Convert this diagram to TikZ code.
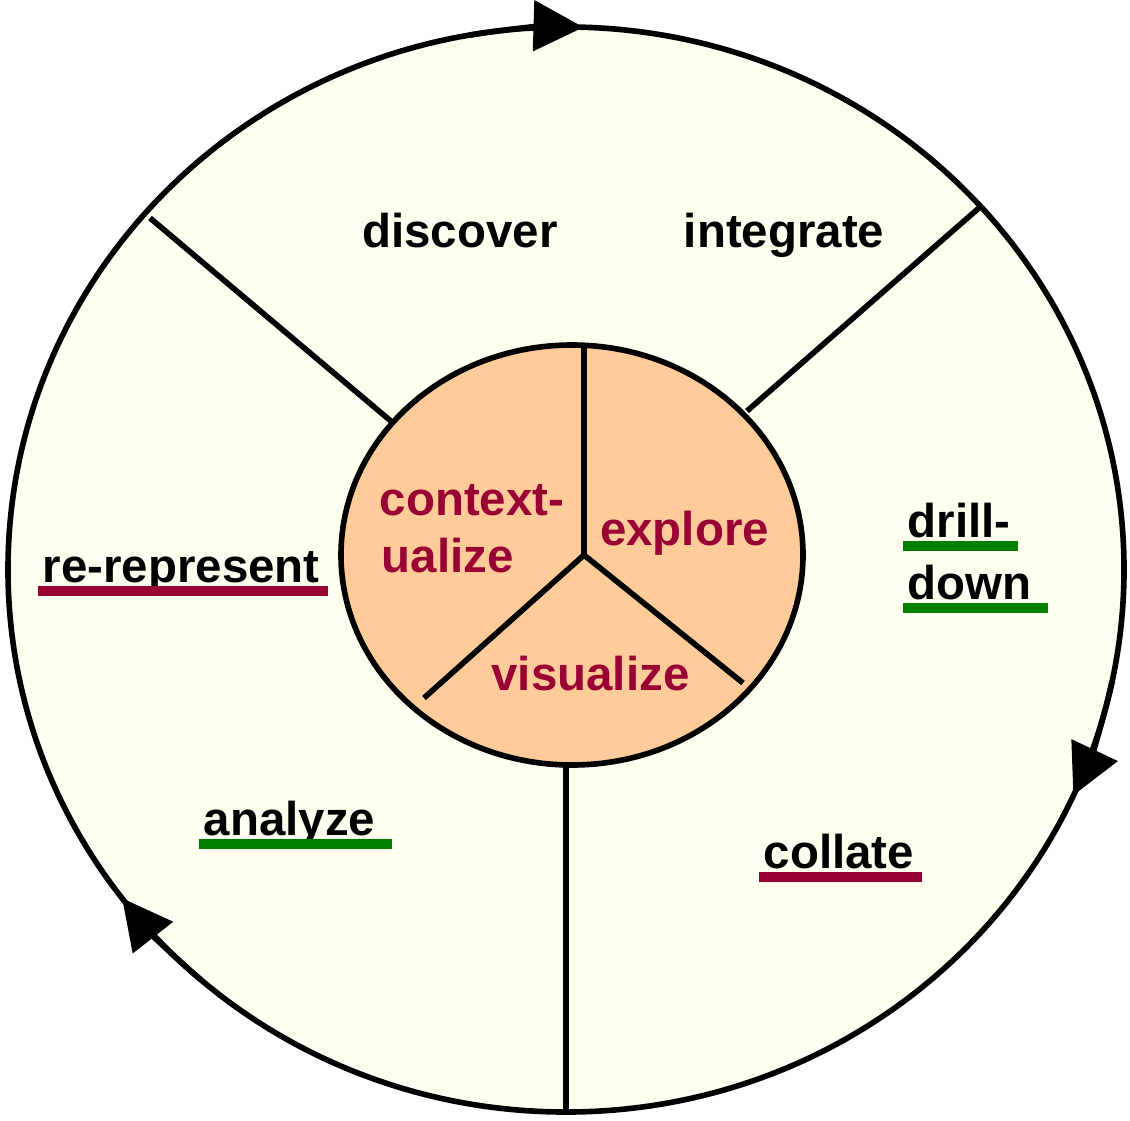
\documentclass[tikz,border=0pt]{standalone}
\usepackage{fontspec}
\setmainfont{Liberation Sans}
\usetikzlibrary{arrows.meta}

\definecolor{cream}{HTML}{FFFFF0}
\definecolor{peach}{HTML}{FFCC99}
\definecolor{wine}{HTML}{990033}
\definecolor{leaf}{HTML}{008000}

\tikzset{
  word/.style={inner sep=0pt, font=\bfseries\fontsize{13.5}{16}\selectfont},
  redword/.style={word, text=wine},
  redline/.style={wine, line width=2.85pt},
  greenline/.style={leaf, line width=2.85pt},
  cycletip/.style={-{Triangle[length=5mm, width=5mm]}}
}

\begin{document}
\begin{tikzpicture}[line width=1.6pt]
            \useasboundingbox (-5.66,-5.505) rectangle (5.64,5.695);

            % Drawing the outer ring
            \fill[cream] (0,0) ellipse [x radius=5.58, y radius=5.425];

            % Drawing the spokes of the ring
            \draw (-4.16,3.515) -- (-1.74,1.475);
            \draw (4.14,3.625) -- (1.81,1.585);
            \draw (0,-1.955) -- (0,-5.425);

            \draw (0,0) ellipse [x radius=5.58, y radius=5.425];

            % Drawing the inner circle
            \draw[fill=peach] (0.06,0.145) ellipse [x radius=2.31, y radius=2.1];
            \draw (0.18,0.145) -- (0.18,2.245);
            \draw (0.18,0.145) -- (-1.42,-1.285);
            \draw (0.18,0.145) -- (1.77,-1.135);

            % Drawing the arrows
            \draw[cycletip] (100:5.58 and 5.425) arc[start angle=100, end angle=88.2, x radius=5.58, y radius=5.425];
            \draw[cycletip] (-12:5.58 and 5.425) arc[start angle=-12, end angle=-24.6, x radius=5.58, y radius=5.425];
            \draw[cycletip] (229:5.58 and 5.425) arc[start angle=229, end angle=217.3, x radius=5.58, y radius=5.425];

            % Labels in the ring
            \node[word, anchor=base] (discover) at (-1.06,3.215) {discover};
            \node[word, anchor=base] (integrate) at (2.18,3.215) {integrate};
            \node[word, anchor=base west] (rerep) at (-5.26,-0.125) {re-represent};
            \node[word, anchor=base west] (drill) at (3.39,0.325) {drill-};
            \node[word, anchor=base west] (down) at (3.39,-0.295) {down};
            \node[word, anchor=base west] (analyze) at (-3.65,-2.655) {analyze};
            \node[word, anchor=base west] (collate) at (1.95,-2.985) {collate};

            % Underlines
            \draw[redline] ([xshift=-0.02cm, yshift=-0.09cm]rerep.base west) -- ([xshift=0.05cm, yshift=-0.09cm]rerep.base east);
            \draw[greenline] ([xshift=-0.02cm, yshift=-0.09cm]drill.base west) -- ([xshift=0.05cm, yshift=-0.09cm]drill.base east);
            \draw[greenline] ([xshift=-0.02cm, yshift=-0.09cm]down.base west) -- ([xshift=0.14cm, yshift=-0.09cm]down.base east);
            \draw[greenline] ([xshift=-0.02cm, yshift=-0.09cm]analyze.base west) -- ([xshift=0.14cm, yshift=-0.09cm]analyze.base east);
            \draw[redline] ([xshift=-0.02cm, yshift=-0.09cm]collate.base west) -- ([xshift=0.05cm, yshift=-0.09cm]collate.base east);

            % Labels in the inner circle
            \node[redword, anchor=base west] (context) at (-1.89,0.545) {context-};
            \node[redword, anchor=base west] (ualize) at (-1.87,-0.025) {ualize};
            \node[redword, anchor=base] (explore) at (1.185,0.245) {explore};
            \node[redword, anchor=base] (visualize) at (0.245,-1.205) {visualize};
        \end{tikzpicture}
\end{document}
